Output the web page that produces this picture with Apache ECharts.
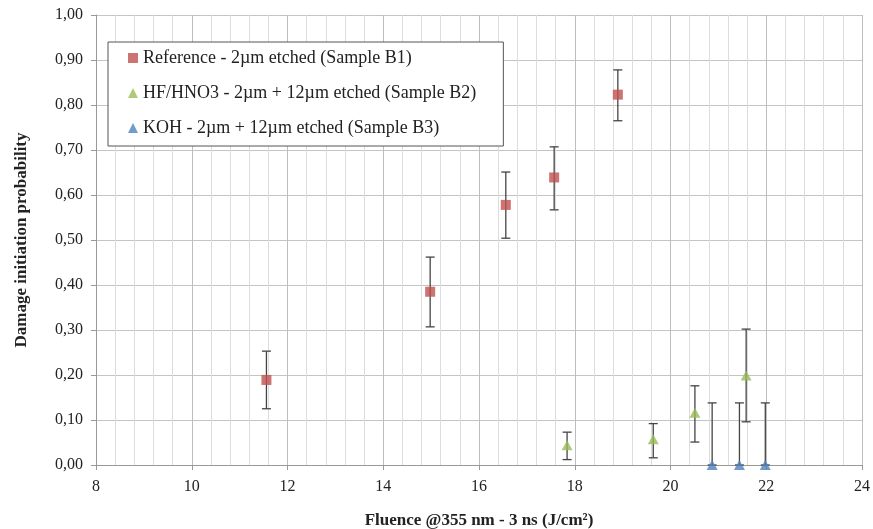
<!DOCTYPE html>
<html>
<head>
<meta charset="utf-8">
<script src="https://cdn.jsdelivr.net/npm/echarts@6/dist/echarts.min.js"></script>
<style>
  html, body { margin: 0; padding: 0; background: #fff; }
  #chart { width: 873px; height: 529px; }
</style>
</head>
<body>
<div id="chart"></div>
<script>
var chart = echarts.init(document.getElementById('chart'));

var seriesNames = [
    'Reference - 2µm etched (Sample B1)',
    'HF/HNO3 - 2µm + 12µm etched (Sample B2)',
    'KOH - 2µm + 12µm etched (Sample B3)'
];

// Sample B1
var refX = [11.56, 14.98, 16.56, 17.57, 18.90];
var refY = [0.189, 0.385, 0.578, 0.639, 0.823];
var refLow = [0.125, 0.307, 0.504, 0.567, 0.765];
var refHigh = [0.253, 0.462, 0.651, 0.707, 0.878];

// Sample B2
var hfX = [17.84, 19.64, 20.51, 21.58];
var hfY = [0.044, 0.057, 0.116, 0.199];
var hfLow = [0.012, 0.016, 0.051, 0.096];
var hfHigh = [0.073, 0.092, 0.176, 0.302];

// Sample B3
var kohX = [20.87, 21.44, 21.98];
var kohY = [0, 0, 0];
var kohLow = [0, 0, 0];
var kohHigh = [0.138, 0.138, 0.138];

var colors = ['#C0504D', '#9BBB59', '#4F81BD'];
var serif = '"Liberation Serif", "DejaVu Serif", serif';

function points(xs, ys) {
    return xs.map(function (x, i) { return [x, ys[i]]; });
}
function bars(xs, lo, hi) {
    return xs.map(function (x, i) { return [x, lo[i], hi[i]]; });
}

function renderErr(params, api) {
    var x = api.value(0);
    var top = api.coord([x, api.value(2)]);
    var bot = api.coord([x, api.value(1)]);
    var w = 4.5;
    var st = { stroke: '#444', lineWidth: 1.3 };
    return {
        type: 'group',
        children: [
            { type: 'line', shape: { x1: top[0], y1: top[1], x2: bot[0], y2: bot[1] }, style: st },
            { type: 'line', shape: { x1: top[0] - w, y1: top[1], x2: top[0] + w, y2: top[1] }, style: st },
            { type: 'line', shape: { x1: bot[0] - w, y1: bot[1], x2: bot[0] + w, y2: bot[1] }, style: st }
        ]
    };
}

function errSeries(data) {
    return {
        type: 'custom',
        renderItem: renderErr,
        data: data,
        encode: { x: 0, y: [1, 2] },
        silent: true,
        clip: false,
        z: 3
    };
}

var option = {
    animation: false,
    grid: { left: 96, right: 11, top: 15, bottom: 64, containLabel: false, outerBoundsMode: 'none' },
    legend: {
        orient: 'vertical',
        left: 108,
        top: 42,
        padding: [7, 27, 9, 20],
        itemGap: 17,
        itemWidth: 10,
        itemHeight: 10,
        backgroundColor: '#fff',
        borderColor: '#555',
        borderWidth: 1,
        textStyle: { fontFamily: serif, fontSize: 18, color: '#222' },
        data: [
            { name: seriesNames[0], icon: 'rect' },
            { name: seriesNames[1], icon: 'triangle' },
            { name: seriesNames[2], icon: 'triangle' }
        ]
    },
    xAxis: {
        type: 'value',
        min: 8,
        max: 24,
        interval: 2,
        name: 'Fluence @355 nm - 3 ns (J/cm²)',
        nameLocation: 'middle',
        nameGap: 47,
        nameTextStyle: { fontFamily: serif, fontSize: 17, fontWeight: 'bold', color: '#222' },
        axisLine: { show: true, lineStyle: { color: '#999' } },
        axisTick: { show: true, length: 5, lineStyle: { color: '#999' } },
        axisLabel: { fontFamily: serif, fontSize: 16, color: '#222', margin: 14 },
        splitLine: { show: true, lineStyle: { color: '#bdbdbd' } },
        minorTick: { show: false, splitNumber: 5 },
        minorSplitLine: { show: true, lineStyle: { color: '#dcdcdc' } }
    },
    yAxis: {
        type: 'value',
        min: 0,
        max: 1,
        interval: 0.1,
        name: 'Damage initiation probability',
        nameLocation: 'middle',
        nameGap: 66,
        nameTextStyle: { fontFamily: serif, fontSize: 17, fontWeight: 'bold', color: '#222' },
        axisLine: { show: true, lineStyle: { color: '#999' } },
        axisTick: { show: true, length: 5, lineStyle: { color: '#999' } },
        axisLabel: {
            fontFamily: serif, fontSize: 16, color: '#222', margin: 13,
            formatter: function (v) { return v.toFixed(2).replace('.', ','); }
        },
        splitLine: { show: true, lineStyle: { color: '#c4c4c4' } }
    },
    series: [
        errSeries(bars(refX, refLow, refHigh)),
        errSeries(bars(hfX, hfLow, hfHigh)),
        errSeries(bars(kohX, kohLow, kohHigh)),
        {
            name: seriesNames[0], type: 'scatter', symbol: 'rect', symbolSize: 10,
            itemStyle: { color: colors[0] }, data: points(refX, refY), clip: false, z: 5
        },
        {
            name: seriesNames[1], type: 'scatter', symbol: 'triangle', symbolSize: [11, 10],
            itemStyle: { color: colors[1] }, data: points(hfX, hfY), clip: false, z: 5
        },
        {
            name: seriesNames[2], type: 'scatter', symbol: 'triangle', symbolSize: [11, 10],
            itemStyle: { color: colors[2] }, data: points(kohX, kohY), clip: false, z: 5
        }
    ]
};
chart.setOption(option);
window.onresize = chart.resize;
</script>
</body>
</html>
